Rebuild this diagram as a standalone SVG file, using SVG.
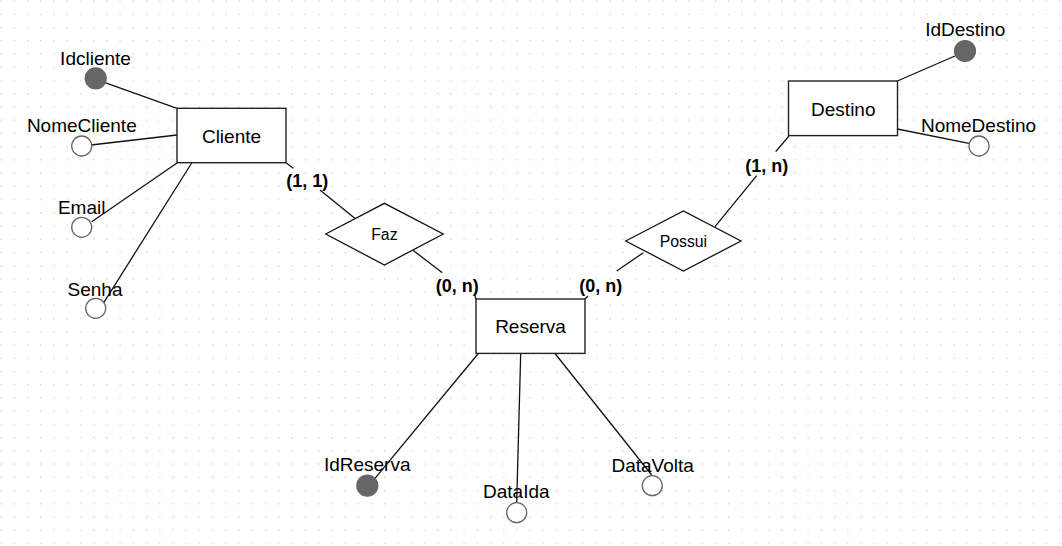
<svg xmlns="http://www.w3.org/2000/svg" width="1062" height="546" viewBox="0 0 1062 546">
<defs>
<pattern id="grid" x="0.4" y="0.4" width="13.23" height="13.23" patternUnits="userSpaceOnUse">
<rect x="0" y="0" width="1.3" height="1.3" fill="#cfcfcf"/>
</pattern>
<style>
.ent{fill:#fff;stroke:#222;stroke-width:1.4}
.rel{fill:#fff;stroke:#111;stroke-width:1.3}
.ln{stroke:#111;stroke-width:1.3;fill:none}
.pk{fill:#666;stroke:#666;stroke-width:1.2}
.at{fill:#fff;stroke:#666;stroke-width:1.3}
.t{font-family:"Liberation Sans",Arial,sans-serif;font-size:19px;fill:#000;text-anchor:middle}
.tr{font-family:"Liberation Sans",Arial,sans-serif;font-size:15.8px;fill:#000;text-anchor:middle}
.c{font-family:"Liberation Sans",Arial,sans-serif;font-size:18px;font-weight:bold;fill:#000;text-anchor:middle}
</style>
</defs>
<rect width="1062" height="546" fill="#fff"/>
<rect width="1062" height="546" fill="url(#grid)"/>
<g id="connectors">
<line class="ln" x1="105" y1="82.7" x2="177" y2="108.3"/>
<line class="ln" x1="91" y1="145" x2="177" y2="135"/>
<line class="ln" x1="91.7" y1="221.7" x2="177" y2="163"/>
<line class="ln" x1="103.3" y1="303.3" x2="191.7" y2="163"/>
<line class="ln" x1="286" y1="162.7" x2="293.3" y2="168.3"/>
<line class="ln" x1="320" y1="190" x2="356" y2="219.3"/>
<line class="ln" x1="412.7" y1="250" x2="442.3" y2="272.7"/>
<line class="ln" x1="475" y1="296" x2="476" y2="299"/>
<line class="ln" x1="585" y1="299" x2="588" y2="296"/>
<line class="ln" x1="616.7" y1="271" x2="643.3" y2="252.7"/>
<line class="ln" x1="715" y1="226.7" x2="756.7" y2="175.7"/>
<line class="ln" x1="775.7" y1="151.7" x2="789" y2="136"/>
<line class="ln" x1="955" y1="56" x2="897.3" y2="81"/>
<line class="ln" x1="897.3" y1="129" x2="969" y2="143.3"/>
<line class="ln" x1="478.3" y1="353.5" x2="375" y2="478.3"/>
<line class="ln" x1="520.7" y1="353.5" x2="516.7" y2="502.2"/>
<line class="ln" x1="555" y1="353.5" x2="651.7" y2="475"/>
</g>
<g id="Cliente">
<rect class="ent" x="177" y="108.3" width="109" height="54.4"/>
<text class="t" x="231.5" y="143">Cliente</text>
</g>
<g id="Idcliente">
<circle class="pk" cx="95.7" cy="78.3" r="10.5"/>
<text class="t" x="95.5" y="65">Idcliente</text>
</g>
<g id="NomeCliente">
<circle class="at" cx="81.7" cy="146" r="10"/>
<text class="t" x="81.8" y="132.3">NomeCliente</text>
</g>
<g id="Email">
<circle class="at" cx="81.7" cy="227.3" r="10"/>
<text class="t" x="81.7" y="214">Email</text>
</g>
<g id="Senha">
<circle class="at" cx="95.7" cy="308.3" r="10"/>
<text class="t" x="95" y="296">Senha</text>
</g>
<g id="Faz">
<polygon class="rel" points="325.7,234 384.4,203.3 443.2,234 384.4,265"/>
<text class="tr" x="384.4" y="239.5">Faz</text>
</g>
<g id="Reserva">
<rect class="ent" x="476" y="299" width="109" height="54.4"/>
<text class="t" x="530.5" y="332.7">Reserva</text>
</g>
<g id="Possui">
<polygon class="rel" points="625.7,241 683.4,211 741,241 683.4,271"/>
<text class="tr" x="683.4" y="246.5">Possui</text>
</g>
<g id="Destino">
<rect class="ent" x="788.5" y="81" width="109" height="54.6"/>
<text class="t" x="843.3" y="116">Destino</text>
</g>
<g id="IdDestino">
<circle class="pk" cx="965" cy="51" r="10.5"/>
<text class="t" x="965.3" y="36">IdDestino</text>
</g>
<g id="NomeDestino">
<circle class="at" cx="979" cy="146" r="10"/>
<text class="t" x="978.5" y="131.7">NomeDestino</text>
</g>
<g id="IdReserva">
<circle class="pk" cx="367.3" cy="485.7" r="10.5"/>
<text class="t" x="367.2" y="471">IdReserva</text>
</g>
<g id="DataIda">
<circle class="at" cx="516.7" cy="512.7" r="10"/>
<text class="t" x="516.3" y="498.3">DataIda</text>
</g>
<g id="DataVolta">
<circle class="at" cx="652.3" cy="485.7" r="10"/>
<text class="t" x="652.7" y="471.7">DataVolta</text>
</g>
<g id="labels">
<text class="c" x="307.2" y="186.7">(1, 1)</text>
<text class="c" x="457.2" y="292.3">(0, n)</text>
<text class="c" x="600.8" y="292.3">(0, n)</text>
<text class="c" x="766.7" y="171.7">(1, n)</text>
</g>
</svg>
